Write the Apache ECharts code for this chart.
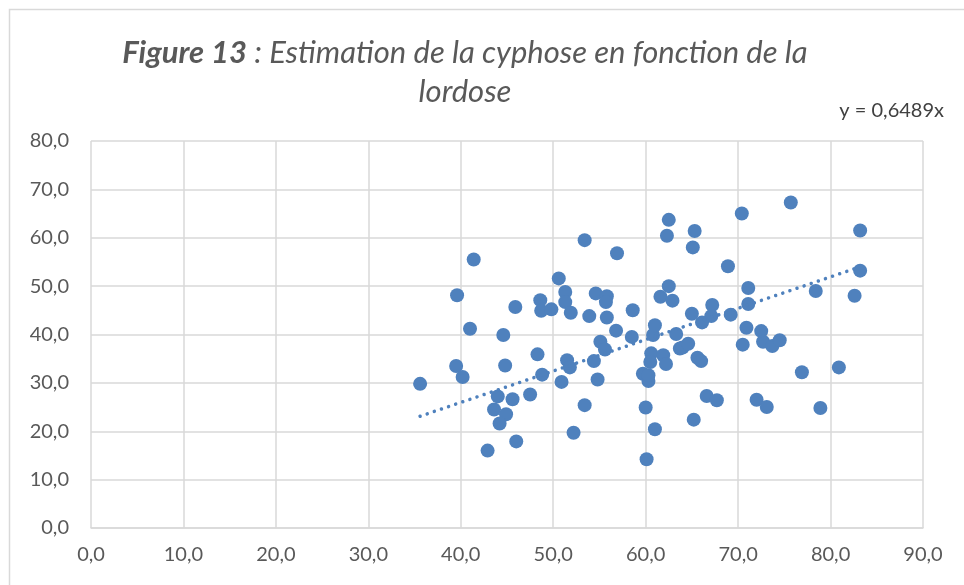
<!DOCTYPE html>
<html lang="fr">
<head>
  <meta charset="UTF-8">
  <title>Figure 13</title>
  <script src="https://cdn.jsdelivr.net/npm/echarts@6/dist/echarts.min.js"></script>
  <style>
    html, body { margin: 0; padding: 0; background: #fff; }
  </style>
</head>
<body>
  <div id="chart" style="width: 964px;height:585px;"></div>

  <script>
    // lordose (x) / cyphose (y)
    var lordose = [35.6, 39.6, 39.5, 40.2, 41.0, 41.4, 44.6, 44.8, 45.9, 48.3,
                   48.8, 44.0, 45.6, 47.5, 43.6, 44.9, 44.2, 42.9, 46.0, 48.6,
                   48.7, 49.8, 50.6, 51.3, 51.3, 51.9, 50.9, 51.5, 51.8, 53.4,
                   52.2, 53.4, 53.9, 54.6, 55.8, 55.7, 55.8, 56.9, 58.6, 56.8,
                   58.5, 55.1, 55.6, 54.4, 54.8, 59.7, 60.3, 60.0, 61.0, 60.1,
                   60.6, 60.5, 61.9, 62.2, 60.8, 61.0, 63.3, 63.7, 62.5, 62.3,
                   65.3, 65.1, 70.4, 75.7, 83.2, 68.9, 62.5, 61.6, 62.9, 71.1,
                   71.1, 78.4, 83.2, 82.6, 65.0, 67.2, 67.1, 66.1, 69.2, 70.9,
                   70.5, 72.5, 72.7, 73.7, 74.5, 64.0, 64.6, 65.6, 66.0, 60.3,
                   76.9, 80.9, 66.6, 67.7, 72.0, 73.1, 78.9, 65.2];
    var cyphose = [29.8, 48.1, 33.5, 31.2, 41.2, 55.5, 39.9, 33.6, 45.7, 35.9,
                   31.7, 27.2, 26.6, 27.6, 24.5, 23.5, 21.6, 16.0, 17.9, 47.1,
                   44.9, 45.2, 51.6, 48.8, 46.7, 44.5, 30.2, 34.7, 33.2, 25.4,
                   19.7, 59.5, 43.8, 48.5, 47.9, 46.7, 43.5, 56.8, 45.0, 40.8,
                   39.5, 38.5, 36.9, 34.5, 30.7, 31.9, 30.4, 24.9, 20.4, 14.2,
                   36.1, 34.3, 35.7, 33.9, 39.9, 41.9, 40.1, 37.1, 63.7, 60.4,
                   61.4, 58.0, 65.0, 67.3, 61.5, 54.1, 50.0, 47.8, 47.0, 49.6,
                   46.3, 49.0, 53.2, 48.0, 44.3, 46.1, 43.8, 42.5, 44.1, 41.4,
                   37.9, 40.7, 38.5, 37.6, 38.8, 37.3, 38.1, 35.2, 34.5, 31.6,
                   32.2, 33.2, 27.3, 26.4, 26.5, 25.0, 24.8, 22.4];

    // courbe de tendance : y = 0,6489x
    var pente = 0.6489;
    var tendanceX = [35.6, 83.2];

    var points = [];
    for (var i = 0; i < lordose.length; i++) {
      points.push([lordose[i], cyphose[i]]);
    }
    var tendance = [];
    for (var j = 0; j < tendanceX.length; j++) {
      tendance.push([tendanceX[j], pente * tendanceX[j]]);
    }

    var font = 'Lato, "Open Sans", sans-serif';
    var chart = echarts.init(document.getElementById('chart'));

    var option = {
      animation: false,
      backgroundColor: '#fff',
      title: {
        text: '{b|Figure 13} : Estimation de la cyphose en fonction de la\nlordose',
        left: 460,
        top: 28,
        textAlign: 'center',
        textStyle: {
          fontFamily: font,
          fontStyle: 'italic',
          fontWeight: 'normal',
          fontSize: 31,
          color: '#595959',
          lineHeight: 39,
          rich: {
            b: { fontFamily: font, fontStyle: 'italic', fontWeight: 'bold', fontSize: 31, lineHeight: 39, color: '#595959' }
          }
        }
      },
      grid: { left: 91, right: 41, top: 141, bottom: 57 },
      xAxis: {
        type: 'value',
        min: 0, max: 90, interval: 10,
        axisLine: { lineStyle: { color: '#d9d9d9', width: 1.5 } },
        axisTick: { show: false },
        splitLine: { lineStyle: { color: '#d9d9d9', width: 1.5 } },
        axisLabel: {
          margin: 17,
          fontFamily: font, fontSize: 20, color: '#595959',
          formatter: function (v) { return v.toFixed(1).replace('.', ','); }
        }
      },
      yAxis: {
        type: 'value',
        min: 0, max: 80, interval: 10,
        axisLine: { show: false },
        axisTick: { show: false },
        splitLine: { lineStyle: { color: '#d9d9d9', width: 1.5 } },
        axisLabel: {
          margin: 22,
          fontFamily: font, fontSize: 20, color: '#595959',
          formatter: function (v) { return v.toFixed(1).replace('.', ','); }
        }
      },
      graphic: [
        {
          type: 'rect',
          shape: { x: 9.5, y: 9.5, width: 970, height: 600 },
          style: { fill: 'none', stroke: '#d9d9d9', lineWidth: 1.5 },
          silent: true
        },
        {
          type: 'text',
          right: 20, top: 101,
          style: { text: 'y = 0,6489x', font: '20px ' + font, fill: '#404040' }
        }
      ],
      series: [
        {
          type: 'scatter',
          data: points,
          symbolSize: 14,
          itemStyle: { color: '#4f81bd', opacity: 1 }
        },
        {
          type: 'line',
          data: tendance,
          symbol: 'none',
          lineStyle: { color: '#4f81bd', width: 3.5, type: [0.01, 7.5], cap: 'round' },
          z: 3
        }
      ]
    };

    chart.setOption(option);
  </script>
</body>
</html>
